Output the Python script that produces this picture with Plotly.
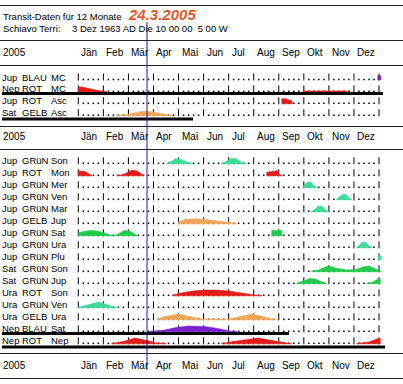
import plotly.graph_objects as go

# ---------------- data ----------------
title_text = "Transit-Daten für 12 Monate"
date_text = "24.3.2005"
subject_name = "Schiavo Terri:"
subject_data = "3 Dez 1963 AD Die 10 00 00  5 00 W"
year_label = "2005"
months = ["Jän", "Feb", "Mär", "Apr", "Mai", "Jun", "Jul", "Aug", "Sep", "Okt", "Nov", "Dez"]
current_month = 2 + 23 / 31  # 24.3.2005 on the month scale

top_planets = ["Jup", "Nep", "Jup", "Sat"]
top_kinds = ["BLAU", "ROT", "ROT", "GELB"]
top_points = ["MC", "MC", "Asc", "Asc"]

main_planets = ["Jup", "Jup", "Jup", "Jup", "Jup", "Jup", "Jup", "Jup", "Jup",
                "Sat", "Sat", "Ura", "Ura", "Ura", "Nep", "Nep"]
main_kinds = ["GRüN", "ROT", "GRüN", "GRüN", "GRüN", "GELB", "GRüN", "GRüN", "GRüN",
              "GRüN", "GRüN", "ROT", "GRüN", "GELB", "BLAU", "ROT"]
main_points = ["Son", "Mon", "Mer", "Ven", "Mar", "Jup", "Sat", "Ura", "Plu",
               "Son", "Jup", "Son", "Ven", "Ura", "Sat", "Nep"]

# transit strength curves (month, intensity 0..1), per row
top_transits = [
    [[(11.95, 0.7), (12.07, 0.7)]],
    [[(0.0, 0.85), (0.15, 0.8), (0.4, 0.55), (0.7, 0.3), (1.0, 0.1), (1.15, 0.03)],
     [(8.97, 0.15), (10.72, 0.15)]],
    [[(8.12, 0.85), (8.3, 0.85), (8.35, 0.65), (8.5, 0.6), (8.55, 0.1)]],
    [[(1.54, 0.05), (1.9, 0.15), (2.3, 0.55), (2.7, 0.8), (3.1, 0.55), (3.5, 0.2), (3.78, 0.05)]],
]

main_transits = [
    [[(3.53, 0.05), (3.75, 0.5), (3.86, 0.85), (4.05, 0.8), (4.3, 0.35), (4.58, 0.05)],
     [(5.72, 0.05), (5.95, 0.5), (6.1, 0.9), (6.3, 0.85), (6.5, 0.3), (6.72, 0.05)]],
    [[(0.0, 0.8), (0.25, 0.75), (0.45, 0.3), (0.55, 0.05)],
     [(1.53, 0.03), (1.8, 0.2), (2.0, 0.6), (2.15, 0.95), (2.35, 0.8), (2.55, 0.2), (2.62, 0.03)],
     [(7.52, 0.6), (7.85, 0.75), (7.92, 0.95), (8.0, 0.3), (8.15, 0.1)]],
    [[(8.97, 0.1), (9.07, 0.7), (9.17, 0.95), (9.3, 0.9), (9.4, 0.3), (9.53, 0.1)]],
    [[(10.31, 0.15), (10.45, 0.6), (10.56, 0.9), (10.7, 0.85), (10.8, 0.3), (10.91, 0.1)]],
    [[(9.31, 0.1), (9.45, 0.4), (9.57, 0.95), (9.75, 0.9), (9.85, 0.35), (9.98, 0.1)]],
    [[(3.98, 0.3), (4.3, 0.75), (4.7, 0.85), (5.1, 0.7), (5.5, 0.5), (5.9, 0.35), (6.1, 0.15), (6.32, 0.05)]],
    [[(0.0, 0.5), (0.3, 0.8), (0.55, 0.9), (0.85, 0.7), (1.15, 0.25), (1.3, 0.1), (1.5, 0.1),
      (1.65, 0.4), (1.85, 0.9), (2.05, 0.8), (2.25, 0.3), (2.35, 0.05)],
     [(7.72, 0.9), (8.12, 0.9)]],
    [[(11.11, 0.1), (11.25, 0.55), (11.32, 0.95), (11.5, 0.85), (11.6, 0.3), (11.71, 0.1)]],
    [[(11.96, 0.65), (12.08, 0.65)]],
    [[(9.31, 0.1), (9.6, 0.3), (9.85, 0.8), (10.0, 0.95), (10.3, 0.6), (10.7, 0.3), (11.1, 0.4),
      (11.4, 0.85), (11.6, 0.95), (11.85, 0.5), (12.05, 0.2)]],
    [[(8.72, 0.1), (9.0, 0.5), (9.25, 0.9), (9.45, 0.8), (9.7, 0.35), (9.91, 0.1)],
     [(11.51, 0.05), (11.75, 0.3), (11.95, 0.75), (12.05, 0.8)]],
    [[(3.75, 0.05), (4.0, 0.4), (4.5, 0.75), (5.0, 0.95), (5.5, 0.95), (6.0, 0.8), (6.5, 0.45),
      (7.0, 0.15), (7.33, 0.03)]],
    [[(0.0, 0.1), (0.4, 0.5), (0.8, 0.95), (1.2, 0.45), (1.45, 0.1), (1.6, 0.05)]],
    [[(3.13, 0.05), (3.4, 0.5), (3.98, 0.95), (4.5, 0.5), (4.98, 0.1), (5.97, 0.1), (6.4, 0.5),
      (6.92, 0.95), (7.4, 0.5), (7.92, 0.05)]],
    [[(2.86, 0.1), (3.4, 0.25), (3.9, 0.7), (4.4, 0.95), (5.0, 0.9), (5.5, 0.6), (6.05, 0.15), (6.32, 0.1)]],
    [[(1.33, 0.05), (1.8, 0.4), (2.26, 0.95), (2.8, 0.5), (3.1, 0.15), (3.5, 0.05)],
     [(5.72, 0.05), (6.3, 0.45), (7.18, 0.95), (7.8, 0.5), (8.3, 0.1), (8.52, 0.03)],
     [(11.11, 0.05), (11.6, 0.3), (11.95, 0.85), (12.05, 0.85)]],
]

# ---------------- style / layout ----------------
W, H = 403, 384
PX_PER_MONTH = 25.06
X0_PX = 78.3
x_lo = -X0_PX / PX_PER_MONTH
x_hi = x_lo + W / PX_PER_MONTH

KIND_COLORS = {"ROT": "#e41b1b", "GELB": "#f2a65a", "BLAU": "#7a1fd0", "GRüN": "#3ddc97"}
DARK_GREEN = "#1ecb4b"
main_dark_green = [False, False, False, False, False, False, True, False, False,
                   True, True, False, False, False, False, False]

FONT = "Liberation Sans, Arial, sans-serif"
FS = 9.5
FS_MONTH = 10
BUMP_H = 6.0

top_y0, top_step = 77.0, 11.9
main_y0, main_step = 160.8, 12.0
top_centers = [top_y0 + i * top_step for i in range(len(top_planets))]
main_centers = [main_y0 + i * main_step for i in range(len(main_planets))]

fig = go.Figure()

# grid ticks and dots
tx, ty, dx, dy = [], [], [], []
for yc in top_centers + main_centers:
    for k in range(13):
        tx += [k, k, None]
        ty += [yc - 3.5, yc + 3.5, None]
    for k in range(12):
        for j in range(1, 5):
            dx.append(k + j / 5)
            dy.append(yc + 2.5)
fig.add_trace(go.Scatter(x=tx, y=ty, mode="lines", line=dict(color="#000", width=1),
                         hoverinfo="skip", showlegend=False))
fig.add_trace(go.Scatter(x=dx, y=dy, mode="markers",
                         marker=dict(symbol="square", size=1.6, color="#111", line=dict(width=0)),
                         hoverinfo="skip", showlegend=False))


def add_curves(curves, yc, color):
    base = yc + 3.0
    for c in curves:
        xs = [c[0][0]] + [p[0] for p in c] + [c[-1][0], c[0][0]]
        ys = [base] + [base - BUMP_H * p[1] for p in c] + [base, base]
        fig.add_trace(go.Scatter(x=xs, y=ys, mode="lines", fill="toself",
                                 fillcolor=color, line=dict(color=color, width=0.6),
                                 hoverinfo="skip", showlegend=False))


for i, curves in enumerate(top_transits):
    add_curves(curves, top_centers[i], KIND_COLORS[top_kinds[i]])
for i, curves in enumerate(main_transits):
    col = DARK_GREEN if main_dark_green[i] else KIND_COLORS[main_kinds[i]]
    add_curves(curves, main_centers[i], col)

ann = []


def txt(xpx, y, s, size=FS, color="#000"):
    ann.append(dict(x=xpx / W, xref="paper", y=y, yref="y", text=s, showarrow=False,
                    xanchor="left", yanchor="middle", borderpad=0,
                    font=dict(family=FONT, size=size, color=color)))


txt(1.5, 16, title_text)
ann.append(dict(x=127 / W, xref="paper", y=14, yref="y", text="<b><i>" + date_text + "</i></b>",
                showarrow=False, xanchor="left", yanchor="middle", borderpad=0,
                font=dict(family=FONT, size=15, color="#e5562c")))
txt(1.5, 28.5, subject_name)
txt(71, 28.5, subject_data)

for yh in [52, 136.5, 365]:
    txt(1.5, yh, year_label, size=FS_MONTH)
    for k, mname in enumerate(months):
        ann.append(dict(x=k, xref="x", y=yh, yref="y", text=mname, showarrow=False,
                        xanchor="left", yanchor="middle", xshift=2, borderpad=0,
                        font=dict(family=FONT, size=FS_MONTH, color="#000")))

for i in range(len(top_planets)):
    yc = top_centers[i]
    txt(1, yc, top_planets[i])
    txt(21, yc, top_kinds[i])
    txt(50.5, yc, top_points[i])
for i in range(len(main_planets)):
    yc = main_centers[i]
    txt(1, yc, main_planets[i])
    txt(21, yc, main_kinds[i])
    txt(50.5, yc, main_points[i])

shapes = []
for yl in [5.5, 40.5, 65.5, 126.5, 149.5, 353.5, 378.5]:
    shapes.append(dict(type="line", xref="paper", yref="y", x0=0, x1=1, y0=yl, y1=yl,
                       line=dict(color="#222", width=1)))
for yl, xe in [(93.5, 383), (119, 193), (333.5, 289), (347, 385)]:
    shapes.append(dict(type="line", xref="paper", yref="y", x0=2 / W, x1=xe / W, y0=yl, y1=yl,
                       line=dict(color="#000", width=3)))
shapes.append(dict(type="line", xref="x", yref="y", x0=current_month, x1=current_month,
                   y0=22, y1=370, line=dict(color="#1c1c9c", width=1)))

fig.update_layout(
    width=W, height=H, autosize=False,
    margin=dict(l=0, r=0, t=0, b=0, pad=0),
    paper_bgcolor="#ffffff", plot_bgcolor="#ffffff",
    xaxis=dict(range=[x_lo, x_hi], visible=False, fixedrange=True),
    yaxis=dict(range=[H, 0], visible=False, fixedrange=True),
    annotations=ann, shapes=shapes, showlegend=False,
)
fig.write_html("out.html", config={"displayModeBar": False},
               post_script="document.body.style.margin='0px';document.body.style.overflow='hidden';")
